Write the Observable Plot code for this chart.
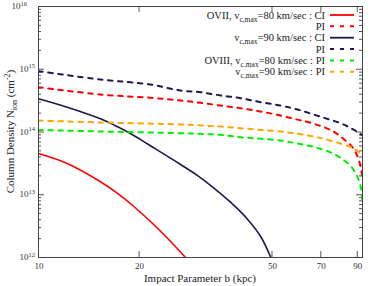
<!DOCTYPE html>
<html><head><meta charset="utf-8">
<script src="https://cdn.jsdelivr.net/npm/d3@7"></script>
<script src="https://cdn.jsdelivr.net/npm/@observablehq/plot@0.6"></script>
<style>body{margin:0;background:#fff} svg{display:block}</style>
</head><body><div id="chart"></div>
<script>
// Impact parameter b (kpc) and column density N (cm^-2)
const b_ovii80CI = [10, 12.19, 15.33, 17.20, 19.29, 21.64, 24.29, 27.55];
const N_ovii80CI = [4.54e13, 3.15e13, 1.61e13, 1.06e13, 6.50e12, 3.75e12, 2.05e12, 1.0e12];

const b_ovii80PI = [10, 15.33, 21.64, 26.62, 30.55, 35.06, 40.25, 46.20, 53.04, 60.02, 65.22, 74.86, 78.74, 83.43, 87.30, 90.36, 92.07, 93.2];
const N_ovii80PI = [5.18e14, 3.96e14, 3.51e14, 3.18e14, 2.92e14, 2.64e14, 2.39e14, 2.12e14, 1.83e14, 1.56e14, 1.40e14, 1.08e14, 9.12e13, 7.13e13, 5.60e13, 3.96e13, 2.82e13, 1.95e13];

const b_ovii90CI = [10, 12.19, 15.33, 17.20, 19.29, 21.15, 26.62, 29.87, 33.49, 37.57, 42.16, 46.20, 49.6];
const N_ovii90CI = [3.38e14, 2.48e14, 1.62e14, 1.22e14, 8.79e13, 6.49e13, 3.03e13, 2.03e13, 1.28e13, 7.61e12, 4.12e12, 2.18e12, 1.0e12];

const b_ovii90PI = [10, 15.33, 21.64, 26.62, 30.55, 35.06, 40.25, 46.20, 53.04, 60.02, 69.88, 78.74, 84.34, 89.38, 93.3];
const N_ovii90PI = [9.31e14, 6.87e14, 5.71e14, 4.58e14, 4.31e14, 3.82e14, 3.46e14, 2.99e14, 2.64e14, 2.26e14, 1.75e14, 1.43e14, 1.22e14, 1.03e14, 8.79e13];

const b_oviii80PI = [10, 15.33, 26.62, 30.55, 35.06, 40.25, 46.20, 53.04, 58.0, 61.71, 66.12, 70.85, 75.89, 79.67, 84.34, 88.34, 91.0, 92.5, 93.2];
const N_oviii80PI = [1.08e14, 1.02e14, 9.57e13, 9.35e13, 9.02e13, 8.26e13, 7.80e13, 7.33e13, 6.73e13, 6.32e13, 5.87e13, 5.26e13, 4.59e13, 3.96e13, 3.18e13, 2.37e13, 1.69e13, 1.20e13, 8.09e12];

const b_oviii90PI = [10, 15.33, 26.62, 30.55, 35.06, 40.25, 46.20, 53.04, 58.0, 66.58, 71.34, 80.60, 86.35, 91.45, 92.9, 93.3];
const N_oviii90PI = [1.52e14, 1.42e14, 1.32e14, 1.27e14, 1.22e14, 1.15e14, 1.08e14, 1.02e14, 9.57e13, 8.47e13, 7.80e13, 6.49e13, 5.73e13, 4.76e13, 4.50e13, 4.23e13];

const xTicks = [10, 20, 50, 70, 90];
const xTickLabels = ["10", "20", "50", "70", "90"];
const yExponents = [12, 13, 14, 15, 16];
const yMinorMultipliers = [2, 3, 4, 5, 6, 7, 8, 9];

const seriesDefs = [
  {b: b_ovii80CI, N: N_ovii80CI, color: "#ff0000", dashed: false},
  {b: b_ovii80PI, N: N_ovii80PI, color: "#ff0000", dashed: true},
  {b: b_ovii90CI, N: N_ovii90CI, color: "#1a1a50", dashed: false},
  {b: b_ovii90PI, N: N_ovii90PI, color: "#1a1a50", dashed: true},
  {b: b_oviii80PI, N: N_oviii80PI, color: "#00ee00", dashed: true},
  {b: b_oviii90PI, N: N_oviii90PI, color: "#ffa500", dashed: true}
];

const yMajor = yExponents.map(e => Math.pow(10, e));
const yMinor = [];
yExponents.slice(0, -1).forEach(e => yMinorMultipliers.forEach(m => yMinor.push(m * Math.pow(10, e))));
const xInner = xTicks.slice(1);

const W = 374, H = 286, mL = 38, mR = 12, mT = 6, mB = 29;
const fw = W - mL - mR, fh = H - mT - mB;
const tickCol = "#555";

const lineMarks = seriesDefs.map(s => Plot.line(s.b.map((b, i) => ({b, N: s.N[i]})), {
  x: "b", y: "N", stroke: s.color,
  strokeWidth: s.dashed ? 2 : 1.6,
  strokeDasharray: s.dashed ? "4.5,5.5" : null,
  curve: "catmull-rom", clip: true
}));

const chart = Plot.plot({
  width: W, height: H,
  marginLeft: mL, marginRight: mR, marginTop: mT, marginBottom: mB,
  x: {type: "log", domain: [10, 93.3], axis: null},
  y: {type: "log", domain: [1e12, 1e16], axis: null},
  style: {background: "white", overflow: "visible"},
  marks: [
    Plot.ruleX(xInner, {x: d => d, insetTop: fh - 6, stroke: tickCol}),
    Plot.ruleX(xInner, {x: d => d, insetBottom: fh - 6, stroke: tickCol}),
    Plot.ruleY(yMajor, {y: d => d, insetRight: fw - 6, stroke: tickCol}),
    Plot.ruleY(yMajor, {y: d => d, insetLeft: fw - 6, stroke: tickCol}),
    Plot.ruleY(yMinor, {y: d => d, insetRight: fw - 3, stroke: tickCol}),
    Plot.ruleY(yMinor, {y: d => d, insetLeft: fw - 3, stroke: tickCol}),
    ...lineMarks,
    Plot.frame({stroke: "#444", strokeWidth: 1})
  ]
});
document.getElementById("chart").appendChild(chart);

const svg = d3.select(chart);
const xs = chart.scale("x"), ys = chart.scale("y");
const serif = "'Liberation Serif', 'Times New Roman', serif";

// x tick labels
xTicks.forEach((v, i) => {
  svg.append("text").attr("x", xs.apply(v) + 1).attr("y", H - mB + 12)
    .attr("text-anchor", "middle").attr("font-family", serif).attr("font-size", 9)
    .attr("fill", "#333").text(xTickLabels[i]);
});
// y tick labels
yExponents.forEach((e, i) => {
  const y = ys.apply(Math.pow(10, e));
  const xr = e === 16 ? 27 : 35;
  const t = svg.append("text").attr("x", xr).attr("y", y + 3)
    .attr("text-anchor", "end").attr("font-family", serif).attr("font-size", 9).attr("fill", "#333");
  t.append("tspan").text("10");
  t.append("tspan").attr("dy", -3.5).attr("font-size", 6.5).text(String(e));
});

// axis labels
svg.append("text").attr("x", mL + fw / 2).attr("y", H - 4.5)
  .attr("text-anchor", "middle").attr("font-family", serif).attr("font-size", 11)
  .attr("fill", "#222").text("Impact Parameter b (kpc)");
const yl = svg.append("text").attr("transform", `translate(14,${mT + fh / 2}) rotate(-90)`)
  .attr("text-anchor", "middle").attr("font-family", serif).attr("font-size", 11).attr("fill", "#222");
yl.append("tspan").text("Column Density N");
yl.append("tspan").attr("dy", 2.5).attr("font-size", 8).text("ion");
yl.append("tspan").attr("dy", -2.5).text(" (cm");
yl.append("tspan").attr("dy", -4).attr("font-size", 8).text("-2");
yl.append("tspan").attr("dy", 4).text(")");

// legend
const legendRows = [
  [["OVII, v", 0], ["c,max", 1], ["=80 km/sec : CI", 0]],
  [["PI", 0]],
  [["v", 0], ["c,max", 1], ["=90 km/sec : CI", 0]],
  [["PI", 0]],
  [["OVIII, v", 0], ["c,max", 1], ["=80 km/sec : PI", 0]],
  [["v", 0], ["c,max", 1], ["=90 km/sec : PI", 0]]
];
legendRows.forEach((parts, i) => {
  const yy = 15 + i * 11.35;
  const t = svg.append("text").attr("x", 325).attr("y", yy + 3.5)
    .attr("text-anchor", "end").attr("font-family", serif).attr("font-size", 10.5).attr("fill", "#222");
  let shift = 0;
  parts.forEach(([s, sub]) => {
    const target = sub ? 3 : 0;
    const ts = t.append("tspan").attr("dy", target - shift).text(s);
    if (sub) ts.attr("font-size", 7.5);
    shift = target;
  });
  const s = seriesDefs[i];
  svg.append("line").attr("x1", 330).attr("x2", 354).attr("y1", yy).attr("y2", yy)
    .attr("stroke", s.color).attr("stroke-width", s.dashed ? 2 : 1.8)
    .attr("stroke-dasharray", s.dashed ? "4,6" : null);
});
</script>
</body></html>
